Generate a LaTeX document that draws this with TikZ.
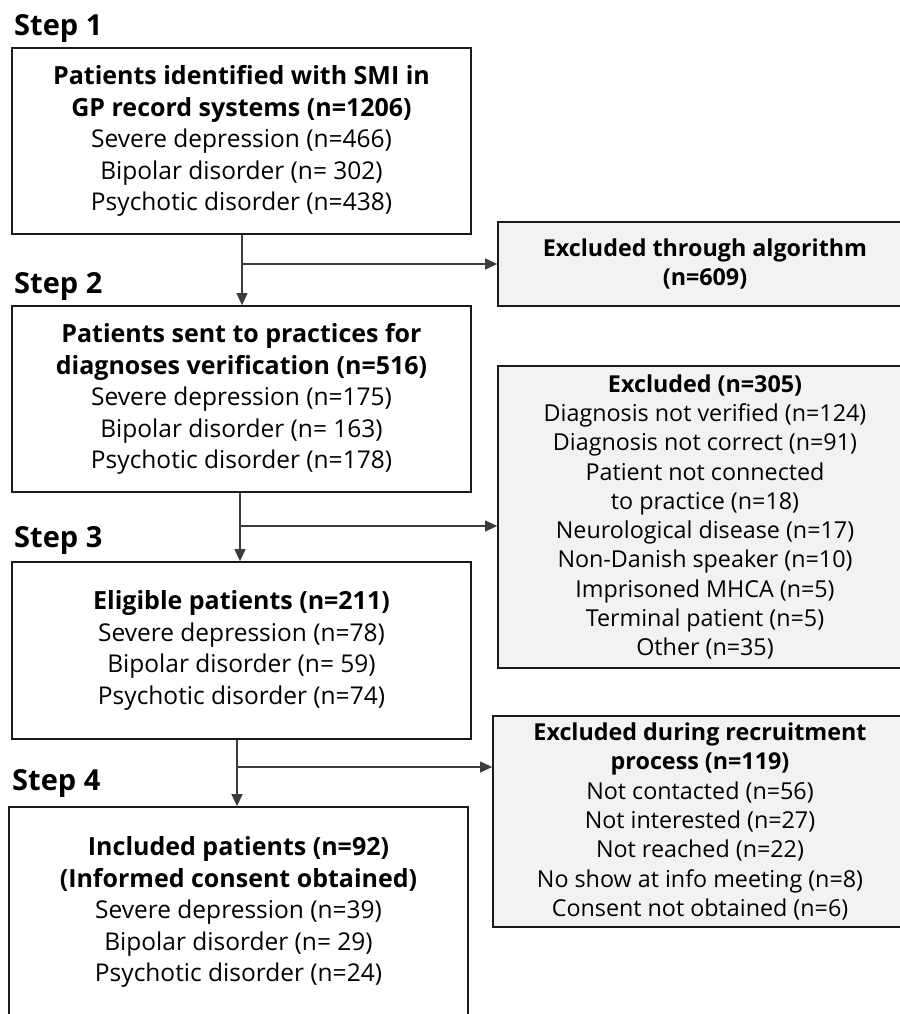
\documentclass[tikz,border=0pt]{standalone}
\usepackage{fontspec}
\setmainfont{Open Sans}
\usetikzlibrary{arrows.meta}
\definecolor{boxgray}{HTML}{F2F2F2}
\definecolor{edge}{HTML}{1A1A1A}
\begin{document}
\begin{tikzpicture}[x=1pt,y=-1pt,
  stepbox/.style={draw=edge,line width=1.8pt,fill=white,inner sep=0pt,align=center,
    font=\fontsize{24.5}{31.5}\selectfont},
  exbox/.style={draw=edge,line width=1.8pt,fill=boxgray,inner sep=0pt,align=center,
    font=\fontsize{23.3}{29.3}\selectfont},
  bigb/.style={font=\fontsize{25}{31.5}\selectfont\bfseries},
  steplabel/.style={anchor=base west,inner sep=0pt,font=\fontsize{29}{30}\selectfont\bfseries},
  arr/.style={draw=edge!85,line width=1.1pt,-{Triangle[width=11pt,length=12pt]}}]
\useasboundingbox (0,0) rectangle (899,1014);
\fill[white] (0,0) rectangle (899,1014);

\node[steplabel] (s1) at (14,36) {Step 1};
\node[steplabel] (s2) at (14,293) {Step 2};
\node[steplabel] (s3) at (14,547) {Step 3};
\node[steplabel] (s4) at (12,790) {Step 4};

\node[stepbox,minimum width=459pt,minimum height=186pt] (b1) at (241.5,141)
 {{\bfseries\fontsize{25}{31.5}\selectfont Patients identified with SMI in}\\{\bfseries\fontsize{25}{31.5}\selectfont GP record systems (n=1206)}\\Severe depression (n=466)\\Bipolar disorder (n= 302)\\Psychotic disorder (n=438)};
\node[stepbox,minimum width=459pt,minimum height=186pt] (b2) at (241.5,399)
 {{\bfseries\fontsize{25}{31.5}\selectfont Patients sent to practices for}\\{\bfseries\fontsize{25}{31.5}\selectfont diagnoses verification (n=516)}\\Severe depression (n=175)\\Bipolar disorder (n= 163)\\Psychotic disorder (n=178)};
\node[stepbox,minimum width=459pt,minimum height=177pt] (b3) at (241.5,650.5)
 {{\bfseries\fontsize{25}{31.5}\selectfont Eligible patients (n=211)}\\Severe depression (n=78)\\Bipolar disorder (n= 59)\\Psychotic disorder (n=74)};
\node[stepbox,minimum width=459pt,minimum height=210pt] (b4) at (238.5,912)
 {{\bfseries\fontsize{25}{31.5}\selectfont Included patients (n=92)}\\{\bfseries\fontsize{25}{31.5}\selectfont (Informed consent obtained)}\\Severe depression (n=39)\\Bipolar disorder (n= 29)\\Psychotic disorder (n=24)};

\node[exbox,minimum width=414pt,minimum height=84pt] (e1) at (705,264)
 {\textbf{Excluded through algorithm}\\\textbf{(n=609)}};
\node[exbox,minimum width=414pt,minimum height=302pt] (e2) at (705,517)
 {\textbf{Excluded (n=305)}\\Diagnosis not verified (n=124)\\Diagnosis not correct (n=91)\\Patient not connected\\to practice (n=18)\\Neurological disease (n=17)\\Non-Danish speaker (n=10)\\Imprisoned MHCA (n=5)\\Terminal patient (n=5)\\Other (n=35)};
\node[exbox,minimum width=414pt,minimum height=211pt] (e3) at (700,821.5)
 {\textbf{Excluded during recruitment}\\\textbf{process (n=119)}\\Not contacted (n=56)\\Not interested (n=27)\\Not reached (n=22)\\No show at info meeting (n=8)\\Consent not obtained (n=6)};

\coordinate (j1) at (242,264);
\coordinate (j2) at (240,526);
\coordinate (j3) at (237,767);

\draw[arr] (b1.south -| j1) -- (b2.north -| j1);
\draw[arr] (j1) -- (e1.west |- j1);
\draw[arr] (b2.south -| j2) -- (b3.north -| j2);
\draw[arr] (j2) -- (e2.west |- j2);
\draw[arr] (b3.south -| j3) -- (b4.north -| j3);
\draw[arr] (j3) -- (e3.west |- j3);
\end{tikzpicture}
\end{document}
